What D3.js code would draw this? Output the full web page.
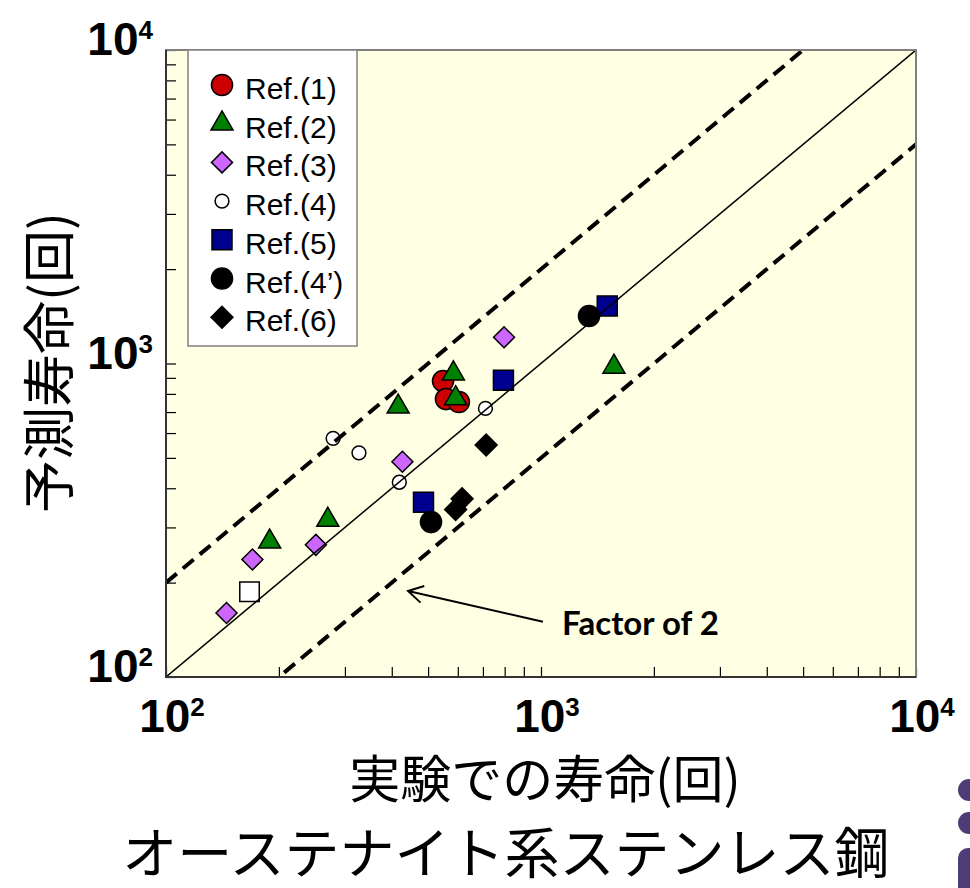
<!DOCTYPE html>
<html>
<head>
<meta charset="utf-8">
<script src="https://cdn.jsdelivr.net/npm/d3@7"></script>
<style>
  body { margin: 0; background: #fff; }
  svg { display: block; }
</style>
</head>
<body>
<svg width="970" height="888"></svg>
<script>
const svg = d3.select('svg');

// [experimental life, predicted life] (cycles)
const ref1 = [[548, 879], [558, 770], [604, 754]];
const ref2 = [[189, 270], [270, 317], [416, 728], [584, 929], [592, 774], [1565, 975]];
const ref3 = [[145, 160], [170, 237], [251, 264], [427, 486], [797, 1212]];
const ref4 = [[279, 577], [327, 519], [419, 418], [711, 719]];
const ref5 = [[486, 361], [794, 884], [1502, 1526]];
const ref4b = [[509, 312], [1343, 1418]];
const ref6 = [[592, 342], [616, 370], [714, 550]];
const openSquare = [[167, 187]];

const legendLabels = ['Ref.(1)', 'Ref.(2)', 'Ref.(3)', 'Ref.(4)', 'Ref.(5)', 'Ref.(4’)', 'Ref.(6)'];
const majorTicks = [1e2, 1e3, 1e4];
const factorLines = [1, 2, 0.5];   // predicted = factor * experimental

const xTitle = '実験での寿命(回)';
const yTitle = '予測寿命(回)';
const subTitle = 'オーステナイト系ステンレス鋼';
const noteText = 'Factor of 2';
const noteTip = [442, 188];
const noteTail = [1012, 150];
const noteLabel = [1138, 136];

const series = [
  { label: legendLabels[0], data: ref1, shape: 'circle', fill: '#cc0000', size: 350 },
  { label: legendLabels[1], data: ref2, shape: 'triangle', fill: '#008000', size: 210 },
  { label: legendLabels[2], data: ref3, shape: 'diamond', fill: '#cc66ff', size: 220 },
  { label: legendLabels[3], data: ref4, shape: 'circle', fill: '#ffffff', size: 150 },
  { label: legendLabels[4], data: ref5, shape: 'square', fill: '#000090', size: 400 },
  { label: legendLabels[5], data: ref4b, shape: 'circle', fill: '#000000', size: 350 },
  { label: legendLabels[6], data: ref6, shape: 'diamond', fill: '#000000', size: 240 },
  { label: null, data: openSquare, shape: 'square', fill: '#ffffff', size: 380 }
];

const latin = "'Liberation Sans', Arial, sans-serif";
const cjk = "'Noto Sans CJK JP', sans-serif";

const symbolPath = (shape, size) => {
  const type = shape === 'circle' ? d3.symbolCircle
    : shape === 'triangle' ? d3.symbolTriangle
    : d3.symbolSquare;
  return d3.symbol().type(type).size(size)();
};

const drawMarker = (sel, s) => {
  sel.append('path')
    .attr('d', symbolPath(s.shape, s.size))
    .attr('transform', s.shape === 'diamond' ? 'rotate(45)' : null)
    .attr('fill', s.fill)
    .attr('stroke', '#000')
    .attr('stroke-width', 1.5);
};

const render = () => {
  const margin = { top: 50, right: 54, bottom: 211, left: 166 };
  const innerWidth = 970 - margin.left - margin.right;
  const innerHeight = 888 - margin.top - margin.bottom;

  const xScale = d3.scaleLog().domain([1e2, 1e4]).range([0, innerWidth]);
  const yScale = d3.scaleLog().domain([1e2, 1e4]).range([innerHeight, 0]);

  const g = svg.append('g')
    .attr('transform', `translate(${margin.left},${margin.top})`);

  g.append('rect')
    .attr('width', innerWidth)
    .attr('height', innerHeight)
    .attr('fill', '#ffffe3');

  svg.append('defs').append('clipPath')
      .attr('id', 'plot-clip')
    .append('rect')
      .attr('width', innerWidth)
      .attr('height', innerHeight);

  // minor/major ticks, inside the frame
  const xAxis = d3.axisBottom(xScale)
    .tickValues(xScale.ticks())
    .tickSize(-10)
    .tickFormat('');
  const yAxis = d3.axisLeft(yScale)
    .tickValues(yScale.ticks())
    .tickSize(-10)
    .tickFormat('');

  const xAxisG = g.append('g')
    .attr('transform', `translate(0,${innerHeight})`)
    .call(xAxis);
  const yAxisG = g.append('g').call(yAxis);
  [xAxisG, yAxisG].forEach(a => {
    a.select('.domain').remove();
    a.selectAll('.tick line').attr('stroke', '#000').attr('stroke-width', 1.2);
  });

  // points
  const pts = g.append('g').attr('clip-path', 'url(#plot-clip)');
  series.forEach(s => {
    pts.selectAll(null).data(s.data).enter().append('g')
      .attr('transform', d => `translate(${xScale(d[0])},${yScale(d[1])})`)
      .each(function() { drawMarker(d3.select(this), s); });
  });

  // 1:1 and factor-of-2 lines
  const lineGen = d3.line().x(d => xScale(d[0])).y(d => yScale(d[1]));
  g.append('g').attr('clip-path', 'url(#plot-clip)')
    .selectAll('path').data(factorLines).enter().append('path')
      .attr('d', f => lineGen([[1e2, 1e2 * f], [1e4, 1e4 * f]]))
      .attr('fill', 'none')
      .attr('stroke', '#000')
      .attr('stroke-width', f => f === 1 ? 1.5 : 4)
      .attr('stroke-dasharray', f => f === 1 ? null : '14,8');

  // frame
  g.append('rect')
    .attr('width', innerWidth)
    .attr('height', innerHeight)
    .attr('fill', 'none')
    .attr('stroke', '#808080')
    .attr('stroke-width', 2);
  g.append('path')
    .attr('d', `M0,0V${innerHeight}H${innerWidth}`)
    .attr('fill', 'none')
    .attr('stroke', '#333')
    .attr('stroke-width', 2);

  // tick labels 10^n
  const powerLabel = (sel) => {
    sel.append('tspan').text('10');
    sel.append('tspan')
      .attr('dy', -16)
      .attr('font-size', 26)
      .text(d => Math.round(Math.log10(d)));
  };
  g.selectAll('.x-label').data(majorTicks).enter().append('text')
      .attr('class', 'x-label')
      .attr('x', d => xScale(d) + 6)
      .attr('y', innerHeight + 55)
      .attr('text-anchor', 'middle')
      .attr('font-family', latin)
      .attr('font-weight', 'bold')
      .attr('font-size', 46)
      .call(powerLabel);
  g.selectAll('.y-label').data(majorTicks).enter().append('text')
      .attr('class', 'y-label')
      .attr('x', -13)
      .attr('y', d => yScale(d) + 5)
      .attr('text-anchor', 'end')
      .attr('font-family', latin)
      .attr('font-weight', 'bold')
      .attr('font-size', 46)
      .call(powerLabel);

  // axis titles
  svg.append('text')
    .attr('x', margin.left + innerWidth / 2 + 4)
    .attr('y', 776)
    .attr('text-anchor', 'middle')
    .attr('dominant-baseline', 'central')
    .attr('font-family', cjk)
    .attr('font-size', 51)
    .text(xTitle);
  svg.append('text')
    .attr('transform', `translate(46,${margin.top + innerHeight / 2 - 1}) rotate(-90)`)
    .attr('text-anchor', 'middle')
    .attr('dominant-baseline', 'central')
    .attr('font-family', cjk)
    .attr('font-size', 53)
    .text(yTitle);
  svg.append('text')
    .attr('x', 506)
    .attr('y', 849)
    .attr('text-anchor', 'middle')
    .attr('dominant-baseline', 'central')
    .attr('font-family', cjk)
    .attr('font-size', 55)
    .text(subTitle);

  // annotation arrow
  const tip = [xScale(noteTip[0]), yScale(noteTip[1])];
  const tail = [xScale(noteTail[0]), yScale(noteTail[1])];
  const ang = Math.atan2(tail[1] - tip[1], tail[0] - tip[0]);
  const head = 17, spread = Math.PI / 6;
  g.append('path')
    .attr('d', `M${tail[0]},${tail[1]}L${tip[0]},${tip[1]}` +
      `M${tip[0] + head * Math.cos(ang - spread)},${tip[1] + head * Math.sin(ang - spread)}` +
      `L${tip[0]},${tip[1]}` +
      `L${tip[0] + head * Math.cos(ang + spread)},${tip[1] + head * Math.sin(ang + spread)}`)
    .attr('fill', 'none')
    .attr('stroke', '#000')
    .attr('stroke-width', 2);
  g.append('text')
    .attr('x', xScale(noteLabel[0]))
    .attr('y', yScale(noteLabel[1]))
    .attr('font-family', "Lato, 'Open Sans', sans-serif")
    .attr('font-weight', 'bold')
    .attr('font-size', 33)
    .attr('fill', '#000')
    .text(noteText);

  // legend
  const legend = g.append('g').attr('transform', 'translate(22,0)');
  const entries = series.filter(s => s.label);
  legend.append('rect')
    .attr('width', 169)
    .attr('height', 296)
    .attr('fill', '#fff')
    .attr('stroke', '#808080')
    .attr('stroke-width', 1.5);
  const rows = legend.selectAll('.row').data(entries).enter().append('g')
    .attr('class', 'row')
    .attr('transform', (d, i) => `translate(0,${35 + i * 38.7})`);
  rows.append('g')
    .attr('transform', 'translate(34,0)')
    .each(function(d) { drawMarker(d3.select(this), d); });
  rows.append('text')
    .attr('x', 57)
    .attr('y', 14)
    .attr('font-family', latin)
    .attr('font-size', 30)
    .attr('fill', '#000')
    .text(d => d.label);

  // slide decoration at the right edge
  const deco = svg.append('g').attr('fill', '#4f3c76');
  deco.append('circle').attr('cx', 969).attr('cy', 790).attr('r', 11);
  deco.append('circle').attr('cx', 969).attr('cy', 823).attr('r', 11);
  deco.append('rect').attr('x', 958).attr('y', 848).attr('width', 30).attr('height', 60).attr('rx', 10);
};

render();
</script>
</body>
</html>
